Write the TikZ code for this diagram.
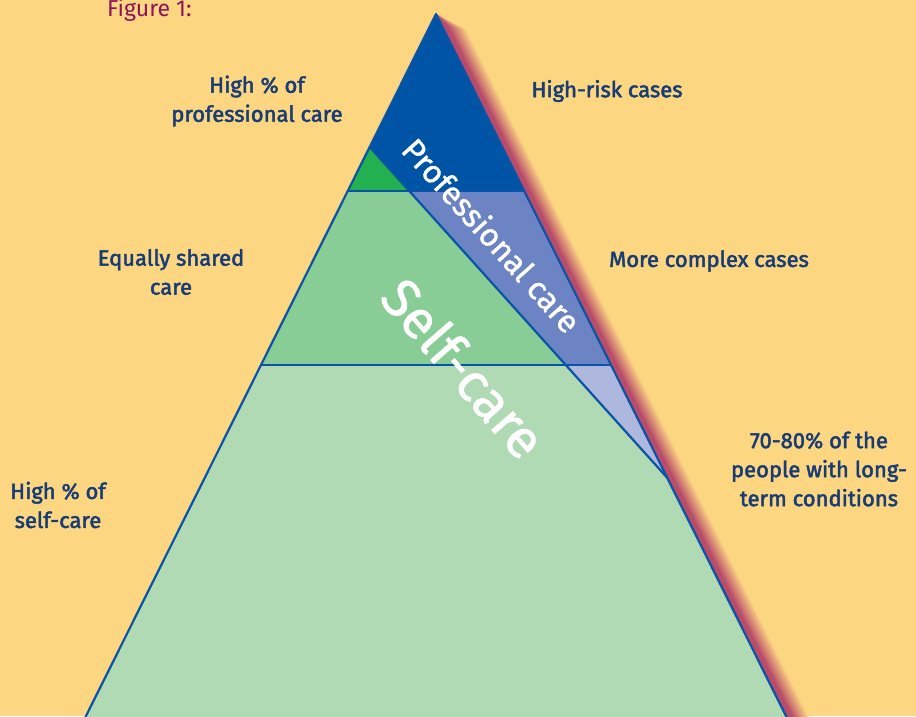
\documentclass[tikz,border=0pt]{standalone}
\usepackage{fontspec}
\setmainfont{Fira Sans}
\newfontfamily\lblfont{Fira Sans}[FakeBold=2.2]
\newfontfamily\inlfont{Fira Sans}[FakeBold=1.2]
\usetikzlibrary{calc}
\definecolor{bg}{RGB}{253,214,130}
\definecolor{shadowc}{RGB}{184,76,106}
\definecolor{darkblue}{RGB}{0,84,166}
\definecolor{midblue}{RGB}{108,132,196}
\definecolor{lightblue}{RGB}{174,184,222}
\definecolor{darkgreen}{RGB}{34,176,80}
\definecolor{midgreen}{RGB}{136,204,150}
\definecolor{lightgreen}{RGB}{176,218,180}
\definecolor{linec}{RGB}{10,84,168}
\definecolor{labelc}{RGB}{24,60,116}
\definecolor{figc}{RGB}{140,20,90}
\begin{document}
\begin{tikzpicture}[x=1pt,y=1pt,
  lbl/.style={font=\lblfont\fontsize{22}{29}\selectfont, text=labelc, align=center, inner sep=0pt},
  edge/.style={draw=linec, line width=2.2pt, line join=round, line cap=round},
  inlbl/.style={text=white, inner sep=0pt}]
\useasboundingbox (0,0) rectangle (916,-716);
\clip (0,0) rectangle (916,-716);
\fill[bg] (0,0) rectangle (916,-716);
% key points
\coordinate (A) at (436,-14);
\coordinate (L) at (79.0,-730);
\coordinate (R) at (793.0,-730);
\coordinate (P1) at (369.7,-147);
\coordinate (P2) at (667.4,-478);
\coordinate (L191) at (347.7,-191);
\coordinate (R191) at (524.3,-191);
\coordinate (D1) at (409.3,-191);
\coordinate (L365) at (261.0,-365);
\coordinate (R365) at (611.0,-365);
\coordinate (D2) at (565.8,-365);
% shadow along right edge
\foreach \k in {22,...,1}{
  \pgfmathtruncatemacro{\p}{min(100,100*(23-\k)/17)}
  \fill[shadowc!\p!bg] ($(A)+({0.447*(12+0.7*\k)},{-0.894*(12+0.7*\k)})+({0.894*0.9*\k},{0.447*0.9*\k})$)
     -- ($(R)+({0.894*0.9*\k},{0.447*0.9*\k})$) -- (R) -- (A) -- cycle;
}
% regions
\fill[darkblue] (A) -- (P1) -- (D1) -- (R191) -- cycle;
\fill[darkgreen] (P1) -- (L191) -- (D1) -- cycle;
\fill[midblue] (D1) -- (R191) -- (R365) -- (D2) -- cycle;
\fill[midgreen] (L191) -- (D1) -- (D2) -- (L365) -- cycle;
\fill[lightblue] (D2) -- (R365) -- (P2) -- cycle;
\fill[lightgreen] (L365) -- (D2) -- (P2) -- (R) -- (L) -- cycle;
% lines
\draw[edge] (L) -- (A) -- (R);
\draw[edge] (L191) -- (R191);
\draw[edge] (L365) -- (R365);
\draw[edge] (P1) -- (P2);
% inner labels
\node[inlbl, font=\inlfont\fontsize{32}{32}\selectfont, rotate=-48] (prof) at (492,-235) {Professional care};
\node[inlbl, font=\inlfont\fontsize{54}{54}\selectfont, rotate=-49] (self) at (464,-368) {Self-care};
% outside labels
\node[anchor=base west, inner sep=0pt, text=figc, font=\fontsize{23}{24}\selectfont] (fig) at (107,-16) {Figure 1:};
\node[lbl] (l1) at (257,-101) {High \% of\\professional care};
\node[lbl] (l2) at (607,-91) {High-risk cases};
\node[lbl] (l3) at (171,-272) {Equally shared\\care};
\node[lbl] (l4) at (709,-261) {More complex cases};
\node[lbl] (l5) at (819,-469) {70-80\% of the\\people with long-\\term conditions};
\node[lbl] (l6) at (58,-505) {High \% of\\self-care};
\end{tikzpicture}
\end{document}
